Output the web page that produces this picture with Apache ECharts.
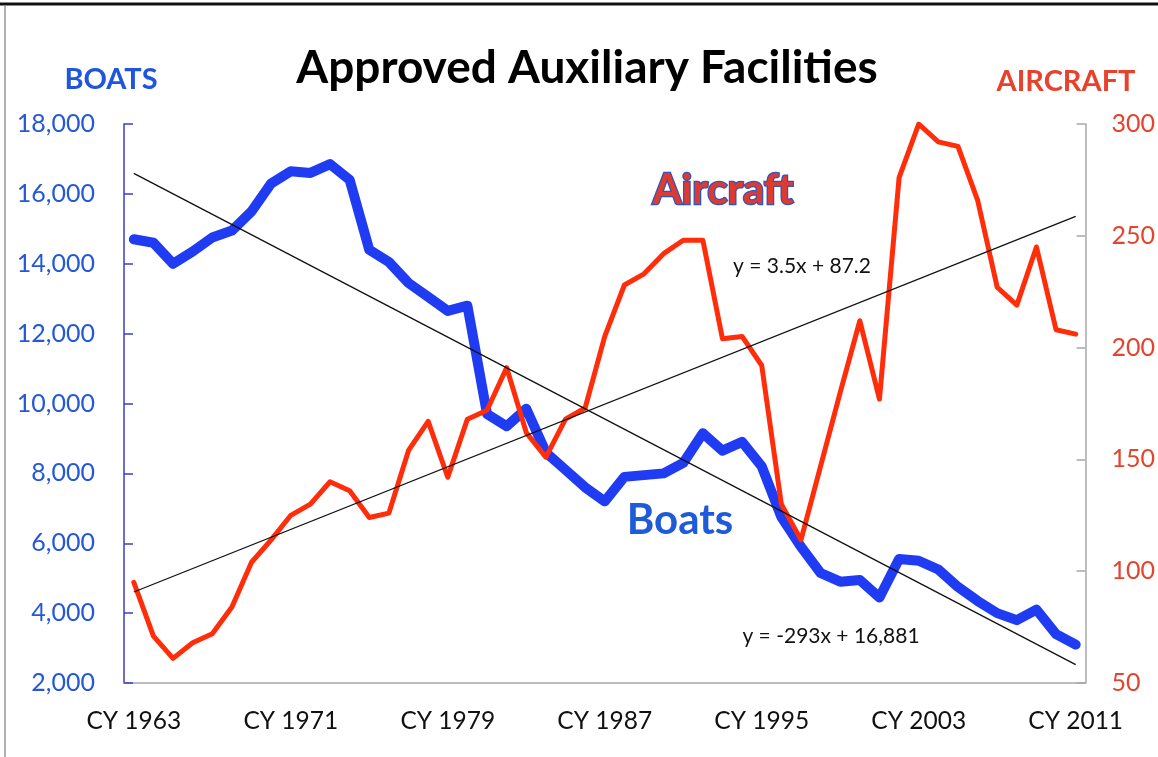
<!DOCTYPE html>
<html>
<head>
<meta charset="utf-8">
<title>Approved Auxiliary Facilities</title>
<script src="https://cdn.jsdelivr.net/npm/echarts@6.0.0/dist/echarts.min.js"></script>
<style>
	html, body{
		margin: 0;
		padding: 0;
		background: #fff;
	}
	#chart{
		width: 1158px;
		height: 757px;
	}
</style>
</head>
<body>
<div id="chart"></div>
<script>
// calendar years on the x axis
const years = [
	1963,1964,1965,1966,1967,1968,1969,1970,1971,1972,
	1973,1974,1975,1976,1977,1978,1979,1980,1981,1982,
	1983,1984,1985,1986,1987,1988,1989,1990,1991,1992,
	1993,1994,1995,1996,1997,1998,1999,2000,2001,2002,
	2003,2004,2005,2006,2007,2008,2009,2010,2011
]
// boats (left axis)
const boats = [
	14700,14600,14000,14350,14750,14950,15500,16300,16650,16600,
	16850,16400,14400,14050,13450,13050,12650,12800,9700,9350,
	9850,8600,8100,7600,7200,7900,7950,8000,8300,9150,
	8650,8900,8200,6750,5900,5150,4900,4950,4450,5550,
	5500,5250,4750,4350,4000,3800,4100,3400,3100
]
// aircraft (right axis)
const aircraft = [
	95,71,61,68,72,84,104,114,125,130,
	140,136,124,126,154,167,142,168,172,191,
	162,151,168,173,205,228,233,242,248,248,
	204,205,192,130,114,147,180,212,177,276,
	300,292,290,266,227,219,245,208,206
]
// trend line ends, first and last year (y = -293x + 16,881 / y = 3.5x + 87.2)
const boatsTrend = [16588, 2524]
const aircraftTrend = [90.7, 258.7]

const boatTicks = [2000, 18000, 2000]   // min, max, interval
const aircraftTicks = [50, 300, 50]

const categories = years.map(y => 'CY ' + y)
const last = years.length - 1

const FONT = 'Lato, "Open Sans", sans-serif'

const option = {
	animation: false,
	textStyle: { fontFamily: FONT },
	grid: {
		left: 124,
		right: 69,
		top: 124,
		bottom: 74
	},
	xAxis: {
		type: 'category',
		data: categories,
		boundaryGap: true,
		axisLine: { lineStyle: { color: '#a8a8a8', width: 1.5 } },
		axisTick: {
			inside: true,
			length: 7,
			interval: 0,
			lineStyle: { color: '#a8a8a8', width: 1.2 }
		},
		axisLabel: {
			interval: 7,
			margin: 26,
			color: '#111',
			fontSize: 24.5,
			fontFamily: FONT
		},
		splitLine: { show: false }
	},
	yAxis: [
		{
			type: 'value',
			position: 'left',
			min: boatTicks[0],
			max: boatTicks[1],
			interval: boatTicks[2],
			axisLine: { show: true, lineStyle: { color: '#3c3cc4', width: 1.5 } },
			axisTick: { show: true, inside: true, length: 9, lineStyle: { color: '#3c3cc4', width: 1.5 } },
			axisLabel: {
				margin: 29,
				color: '#2458d8',
				fontSize: 25,
				fontFamily: FONT,
				formatter: v => v.toLocaleString('en-US')
			},
			splitLine: { show: false }
		},
		{
			type: 'value',
			position: 'right',
			min: aircraftTicks[0],
			max: aircraftTicks[1],
			interval: aircraftTicks[2],
			axisLine: { show: true, lineStyle: { color: '#a8a8a8', width: 1.5 } },
			axisTick: { show: true, inside: true, length: 9, lineStyle: { color: '#a8a8a8', width: 1.5 } },
			axisLabel: {
				margin: 26,
				color: '#e4442e',
				fontSize: 25,
				fontFamily: FONT
			},
			splitLine: { show: false }
		}
	],
	series: [
		{
			name: 'Boats',
			type: 'line',
			yAxisIndex: 0,
			data: boats,
			symbol: 'none',
			lineStyle: { color: '#1f3cf2', width: 10, join: 'round', cap: 'round' },
			z: 2
		},
		{
			name: 'Aircraft',
			type: 'line',
			yAxisIndex: 1,
			data: aircraft,
			symbol: 'none',
			lineStyle: { color: '#ff2d0a', width: 5, join: 'round', cap: 'round' },
			z: 3
		},
		{
			name: 'Boats trend',
			type: 'line',
			yAxisIndex: 0,
			data: [[0, boatsTrend[0]], [last, boatsTrend[1]]],
			symbol: 'none',
			silent: true,
			lineStyle: { color: '#111', width: 1.3 },
			z: 4
		},
		{
			name: 'Aircraft trend',
			type: 'line',
			yAxisIndex: 1,
			data: [[0, aircraftTrend[0]], [last, aircraftTrend[1]]],
			symbol: 'none',
			silent: true,
			lineStyle: { color: '#111', width: 1.3 },
			z: 4
		}
	],
	graphic: [
		// frame of the slide
		{ type: 'line', shape: { x1: 0, y1: 4, x2: 1158, y2: 4 }, style: { stroke: '#111', lineWidth: 3 } },
		{ type: 'line', shape: { x1: 5, y1: 6, x2: 5, y2: 757 }, style: { stroke: '#b0b0b0', lineWidth: 2 } },
		{
			type: 'text', x: 587, y: 68,
			style: { text: 'Approved Auxiliary Facilities', font: 'bold 46px ' + FONT, fill: '#000', textAlign: 'center', textVerticalAlign: 'middle' }
		},
		{
			type: 'text', x: 111, y: 80,
			style: { text: 'BOATS', font: 'bold 29px ' + FONT, fill: '#1f56dd', textAlign: 'center', textVerticalAlign: 'middle' }
		},
		{
			type: 'text', x: 1066, y: 82,
			style: { text: 'AIRCRAFT', font: 'bold 29px ' + FONT, fill: '#e8412c', textAlign: 'center', textVerticalAlign: 'middle' }
		},
		{
			type: 'text', x: 723, y: 190, z: 10,
			style: {
				text: 'Aircraft', font: 'bold 42px ' + FONT, fill: '#de3a30',
				stroke: '#2f55c0', lineWidth: 2.5,
				shadowBlur: 8, shadowColor: 'rgba(60,100,210,0.7)',
				textAlign: 'center', textVerticalAlign: 'middle'
			}
		},
		{
			type: 'text', x: 680, y: 520, z: 10,
			style: {
				text: 'Boats', font: 'bold 42px ' + FONT, fill: '#1f5ad8',
				shadowBlur: 8, shadowColor: 'rgba(40,90,220,0.6)',
				textAlign: 'center', textVerticalAlign: 'middle'
			}
		},
		{
			type: 'text', x: 802, y: 266, z: 10,
			style: { text: 'y = 3.5x + 87.2', font: '21px ' + FONT, fill: '#111', textAlign: 'center', textVerticalAlign: 'middle' }
		},
		{
			type: 'text', x: 831, y: 636, z: 10,
			style: { text: 'y = -293x + 16,881', font: '21px ' + FONT, fill: '#111', textAlign: 'center', textVerticalAlign: 'middle' }
		}
	]
}

let myChart = echarts.init(document.getElementById('chart'))//初始化
myChart.setOption(option)
</script>
</body>
</html>
